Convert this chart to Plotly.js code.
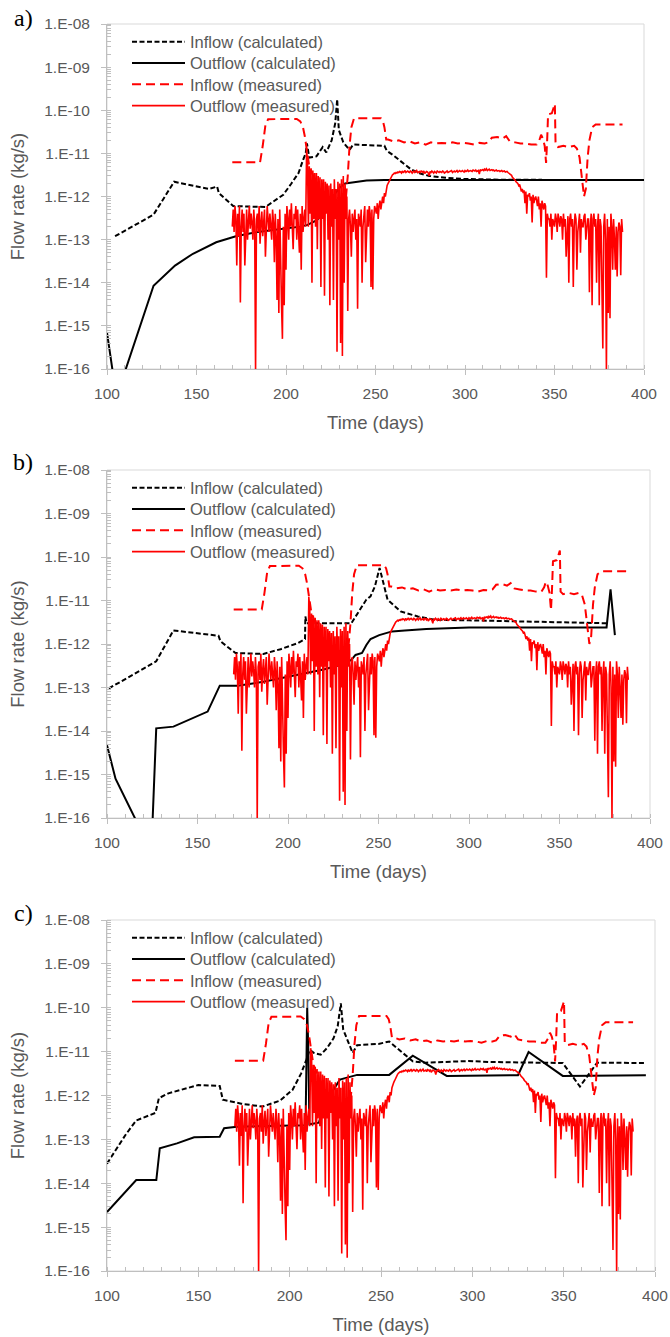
<!DOCTYPE html>
<html>
<head>
<meta charset="utf-8">
<script src="https://cdn.plot.ly/plotly-3.0.1.min.js"></script>
<style>
  html, body { margin: 0; padding: 0; background: #ffffff; }
  #chart { width: 670px; height: 1337px; }
</style>
</head>
<body>
<div id="chart"></div>
<script>
// ---------------- tick labels / names ----------------
const yTickVals = [1e-16, 1e-15, 1e-14, 1e-13, 1e-12, 1e-11, 1e-10, 1e-9, 1e-8];
const yTickText = ["1.E-16", "1.E-15", "1.E-14", "1.E-13", "1.E-12", "1.E-11", "1.E-10", "1.E-09", "1.E-08"];
const xTickVals = [100, 150, 200, 250, 300, 350, 400];
const panelLabels = ["a)", "b)", "c)"];
const seriesNames = ["Inflow (calculated)", "Outflow (calculated)", "Inflow (measured)", "Outflow (measured)"];
const xTitle = "Time (days)";
const yTitle = "Flow rate (kg/s)";

// ---------------- measured data (same in all panels) ----------------
const inMeasDays = [170, 185.5, 187, 188.5, 190, 206, 208, 209.5, 210.5, 211.5, 213, 216, 220, 225, 230, 232.5, 233.5, 234.5, 235.5, 236.5, 238,
  253, 254.2, 255, 256, 257, 260, 263, 266, 269, 272, 275, 278, 281, 284, 287, 290, 293, 296, 299, 302, 305, 308, 311, 313, 315, 318, 321, 323, 325,
  328, 331, 334, 337, 340, 341.5, 342.5, 343.5, 344.5, 345.3, 345.9, 346.4, 348.5, 349.5, 350.2, 350.6, 352, 355, 358, 361, 362.5, 364, 365.5,
  366.5, 367.5, 368.5, 369.5, 371, 373, 388];
const inMeasFlow = [6.2e-12, 6.2e-12, 1.5e-11, 4.5e-11, 6.2e-11, 6.3e-11, 5.5e-11, 4e-11, 2.5e-11, 1.2e-11, 5e-12, 2.5e-12, 1.2e-12, 8e-13, 6e-13, 3e-13, 8e-13, 3e-12, 1.5e-11, 4e-11, 6.5e-11,
  6.5e-11, 5.5e-11, 4e-11, 2.1e-11, 2.1e-11, 1.9e-11, 2e-11, 1.8e-11, 1.9e-11, 1.7e-11, 1.8e-11, 1.6e-11, 1.8e-11, 1.7e-11, 1.75e-11, 1.7e-11, 1.8e-11, 1.7e-11, 1.75e-11, 1.7e-11, 1.6e-11, 1.75e-11, 1.7e-11, 1.8e-11, 2.3e-11, 2.4e-11, 2.2e-11, 2.5e-11, 1.9e-11,
  1.8e-11, 1.7e-11, 1.7e-11, 1.6e-11, 1.6e-11, 2e-11, 2.7e-11, 2.2e-11, 1.5e-11, 6e-12, 2e-11, 8e-11, 8.5e-11, 1.1e-10, 1.4e-10, 1.6e-11, 1.4e-11, 1.5e-11, 1.4e-11, 1.5e-11, 1.3e-11, 8e-12, 2.5e-12,
  1e-12, 1.5e-12, 8e-12, 2e-11, 4e-11, 4.7e-11, 4.7e-11];

// measured outflow: logged every half day from day 170
const outMeasStart = 170;
const outMeasStep = 0.5;
const outMeasFlow = [
  2e-13,5e-13, 1.5e-13,6e-13, 3e-13,2.5e-14, 4e-13,1.2e-13, 6e-13,3.5e-15,
  2e-13,5e-13, 1.5e-13,4e-13, 2.5e-14,3e-13, 5e-13,1e-13, 3e-13,6e-13,
  1.8e-13,4e-13, 2.5e-13,1e-13, 5e-13,2e-13, 9e-17,3e-13, 4e-13,1.5e-13,
  6e-13,8e-14, 2.5e-13,4.5e-13, 1.2e-13,3e-13, 5e-13,4e-14, 2e-13,6e-13,
  3e-13,1.5e-13, 4e-13,2e-13, 1e-13,5e-13, 2.5e-13,3e-14, 4e-13,1.2e-13,
  4e-15,3e-13, 2e-15,5e-13, 1e-14,3e-15, 5e-16,2e-13, 3e-15,4e-13,
  2e-14,6e-13, 3e-13,1e-13, 5e-13,2e-13, 7e-13,1.5e-13, 6e-14,4e-13,
  3e-13,6e-13, 1e-13,5e-13, 2e-13,5e-14, 4e-13,2e-14, 6e-13,1.5e-13,
  3e-13,5e-13, 2e-13,1.2e-11, 7e-12,2e-13, 5e-12,4e-13, 4.5e-12,1e-14,
  4e-12,3e-13, 3.5e-12,2e-13, 3.5e-12,6e-14, 3e-12,3e-13, 2.8e-12,8e-15,
  2.5e-12,3e-13, 2.5e-12,5e-15, 2.2e-12,4e-13, 2e-12,1e-13, 1.8e-12,3e-15,
  2e-12,2e-13, 1.5e-12,4e-15, 2.5e-12,3e-13, 1.5e-12,2.5e-16, 2.2e-12,1e-13,
  2e-12,4e-16, 2.5e-12,2e-16, 3e-12,1e-14, 2e-12,3e-13, 1e-12,2.2e-15,
  3e-13,5e-13, 2e-13,4e-14, 4e-13,1.5e-13, 3e-13,5e-13, 1e-13,3e-13,
  2.5e-15,4e-13, 3e-13,2e-13, 5e-13,1e-14, 2e-13,4e-13, 6e-13,3e-14,
  3e-13,5e-13, 2e-13,6e-13, 4e-13,8e-15, 5e-13,7e-15, 3e-13,6e-13,
  5e-13,4e-13, 7e-13,3e-13, 6e-13,8e-13, 5e-13,9e-13, 1e-12,7e-13,
  1.2e-12,1e-12, 1.5e-12,1.8e-12, 2e-12,2.2e-12, 2.5e-12,2.8e-12, 3e-12,3.2e-12,
  3.3e-12,3.5e-12, 3.4e-12,3.6e-12, 3.5e-12,3.7e-12, 3.6e-12,3.8e-12, 3.7e-12,3.5e-12,
  3.9e-12,3.6e-12, 3.7e-12,4e-12, 3.6e-12,3.8e-12, 3.9e-12,3.7e-12, 3.6e-12,3.9e-12,
  3.8e-12,3.5e-12, 3.7e-12,3.9e-12, 3.6e-12,3.8e-12, 4e-12,3.6e-12, 3.7e-12,3.8e-12,
  3.5e-12,3.9e-12, 3.8e-12,3.6e-12, 3.9e-12,3.4e-12, 3.6e-12,3.8e-12, 3.7e-12,3.5e-12,
  3e-12,3.8e-12, 3.6e-12,3.9e-12, 3.7e-12,3.5e-12, 3.8e-12,3.6e-12, 3.5e-12,3.9e-12,
  3.7e-12,3.6e-12, 3.8e-12,3.7e-12, 3.6e-12,3.9e-12, 3.8e-12,3.5e-12, 3.7e-12,3.8e-12,
  3.9e-12,3.6e-12, 3.7e-12,3.8e-12, 3.8e-12,4e-12, 3.6e-12,3.8e-12, 3.9e-12,3.7e-12,
  3.8e-12,4e-12, 3.7e-12,3.9e-12, 4e-12,3.8e-12, 3.8e-12,4e-12, 3.9e-12,3.7e-12,
  4e-12,3.8e-12, 3.9e-12,4.1e-12, 3.8e-12,4e-12, 4e-12,3.9e-12, 3.8e-12,4.1e-12,
  4e-12,3.9e-12, 4.1e-12,3.8e-12, 3.9e-12,4e-12, 3.3e-12,4.2e-12, 4e-12,4.1e-12,
  4.2e-12,3.9e-12, 4.3e-12,4.1e-12, 4.4e-12,4e-12, 4.1e-12,4.3e-12, 4e-12,4.2e-12,
  4.2e-12,4e-12, 4.1e-12,3.9e-12, 4e-12,4.1e-12, 3.9e-12,4e-12, 4e-12,3.8e-12,
  3.9e-12,4e-12, 3.8e-12,3.9e-12, 3.9e-12,3.7e-12, 3.7e-12,3.8e-12, 3.6e-12,3.5e-12,
  3.4e-12,3.3e-12, 3.1e-12,2.8e-12, 2.7e-12,2.5e-12, 2.4e-12,2.2e-12, 2.1e-12,2e-12,
  1.8e-12,1.9e-12, 1.6e-12,1.3e-12, 1.5e-12,1.2e-12, 1.4e-12,7e-13, 1.3e-12,4e-13,
  1.1e-12,1e-12, 1.2e-12,8e-13, 1e-12,2.5e-13, 1.1e-12,7e-13, 9e-13,1e-12,
  8e-13,6e-13, 1e-12,5e-13, 7e-13,2e-13, 8e-13,6e-13, 5e-13,7e-13,
  6e-13,1.3e-14, 4e-13,3e-13, 3e-13,2e-13, 4e-13,1e-13, 3e-13,2.5e-13,
  2e-13,4e-13, 3e-13,1.5e-13, 4e-13,3e-13, 2e-13,3.5e-13, 3e-13,1e-13,
  4e-13,2e-13, 3e-13,4e-14, 2.5e-13,3.5e-13, 1e-14,3e-13, 4e-13,2e-13,
  3e-13,8e-15, 2e-13,4e-13, 3e-13,2e-14, 1.5e-13,3e-13, 4e-13,5e-14,
  3e-13,2e-13, 2e-13,3.5e-13, 4e-13,1e-13, 2e-13,3e-13, 3e-13,6e-15,
  2e-13,4e-13, 3e-15,3e-13, 4e-13,2e-13, 3e-13,1e-14, 2e-13,4e-13,
  3e-15,3e-13, 2e-13,8e-15, 3e-16,2e-13, 4e-13,1e-13, 9e-17,3e-13,
  2e-15,2e-13, 1.5e-15,4e-13, 2e-13,2e-14, 3e-13,1e-13, 2e-14,2e-13,
  1.4e-14,1.5e-13, 2.5e-13,2e-13, 1.5e-14,3e-13,
  1.5e-13
];

// ---------------- panel a: calculated ----------------
const aInDays = [104.5, 126, 137.5, 157, 161.5, 162.5, 164, 170.5, 188.5, 198.5, 203, 207, 209.5, 211, 211.7, 213, 217, 219.5, 220.5, 222.5, 225.5, 227.5, 228.6, 229.5, 232, 235.5, 237.5, 255, 256.3, 260, 265, 270, 275, 280, 290, 300, 320, 343];
const aInFlow = [1.2e-13, 3.8e-13, 2.2e-12, 1.5e-12, 1.7e-12, 1.2e-12, 1.05e-12, 6e-13, 5.7e-13, 1.1e-12, 2e-12, 3.5e-12, 7e-12, 1e-11, 1.7e-11, 8e-12, 8.5e-12, 1.2e-11, 1.4e-11, 1.05e-11, 2e-11, 5e-11, 1.8e-10, 3.5e-11, 1.8e-11, 1.2e-11, 1.6e-11, 1.5e-11, 1.15e-11, 9e-12, 6e-12, 4.2e-12, 3.4e-12, 3e-12, 2.7e-12, 2.55e-12, 2.45e-12, 2.45e-12];
const aOutDays = [100, 106.5, 110.5, 126, 138, 148, 161, 172, 184, 196, 208, 212, 217, 221, 224, 227, 230, 233, 237, 245, 255, 400];
const aOutFlow = [7e-16, 1e-17, 1e-16, 8.5e-15, 2.5e-14, 4.7e-14, 8.7e-14, 1.2e-13, 1.5e-13, 1.75e-13, 2e-13, 2.2e-13, 2.8e-13, 4e-13, 6.5e-13, 1.1e-12, 1.6e-12, 2e-12, 2.1e-12, 2.35e-12, 2.4e-12, 2.4e-12];

// ---------------- panel b: calculated ----------------
const bInDays = [101, 127.2, 136.7, 161.6, 162.7, 171, 186.4, 195.9, 205.4, 209.4, 209.6, 210.3, 235, 239.7, 243.3, 245.6, 248, 250.6, 252.7, 255, 262.2, 271.7, 281, 300, 376];
const bInFlow = [9.5e-14, 4e-13, 2.05e-12, 1.55e-12, 1.15e-12, 6.2e-13, 5.9e-13, 7.6e-13, 1.05e-12, 1.3e-12, 4.3e-12, 3e-12, 3e-12, 6.2e-12, 1.05e-11, 1.25e-11, 2.1e-11, 5.6e-11, 2.5e-11, 1.05e-11, 5.6e-12, 4.3e-12, 3.6e-12, 3.5e-12, 3e-12];
const bOutDays = [100, 104.7, 115.4, 118, 124.3, 127.2, 136.7, 155.6, 162.3, 172.2, 186.4, 205.4, 219.6, 229, 235, 237.3, 240.9, 243.3, 245.6, 250.4, 257.5, 264.6, 276.4, 300, 376, 378.2, 380.6];
const bOutFlow = [4.7e-15, 8e-16, 1e-16, 1e-17, 1e-17, 1.15e-14, 1.26e-14, 2.8e-14, 1.1e-13, 1.1e-13, 1.35e-13, 1.95e-13, 2.6e-13, 3.3e-13, 4.3e-13, 5.6e-13, 6.2e-13, 9.5e-13, 1.3e-12, 1.6e-12, 1.95e-12, 2.04e-12, 2.2e-12, 2.4e-12, 2.4e-12, 1.8e-11, 1.6e-12];

// ---------------- panel c: calculated ----------------
const cInDays = [100, 110.1, 116, 126.5, 128.4, 133.6, 150, 161.7, 163.4, 173.5, 185.2, 194.6, 201.6, 206.3, 209.2, 211, 213.4, 217, 220.4, 224, 226.3, 227.5, 228, 229.3, 232.2, 234.5, 236.9, 248.6, 254.5, 267.4, 274.4, 297.9, 309.6, 349.5, 358.9, 368.3, 395.3];
const cInFlow = [2.8e-14, 1.26e-13, 2.7e-13, 4e-13, 8.7e-13, 1.12e-12, 1.73e-12, 1.65e-12, 8e-13, 6.5e-13, 5.6e-13, 7.6e-13, 1.35e-12, 3.2e-12, 6.6e-12, 1.1e-11, 9.3e-12, 8.5e-12, 1.2e-11, 2e-11, 3.8e-11, 8.3e-11, 1.26e-10, 3.2e-11, 1.6e-11, 9.3e-12, 1.4e-11, 1.5e-11, 1.7e-11, 6e-12, 5.6e-12, 6.1e-12, 5.8e-12, 5.5e-12, 1.6e-12, 5.6e-12, 5.5e-12];
const cOutDays = [100, 116, 127, 128.9, 138.3, 147.7, 161.7, 164.1, 171.1, 199.3, 208.7, 209.6, 210.2, 210.8, 216, 218, 221.6, 227.5, 234.5, 236.9, 254.5, 267.4, 286, 298, 300, 325, 330.8, 349.5, 395];
const cOutFlow = [2.2e-15, 1.18e-14, 1.18e-14, 6.3e-14, 8.1e-14, 1.12e-13, 1.15e-13, 1.8e-13, 1.94e-13, 2.1e-13, 2.1e-13, 1e-10, 1.1e-11, 2.2e-13, 2.4e-13, 4.7e-13, 9.5e-13, 2.3e-12, 2.7e-12, 2.95e-12, 2.95e-12, 8.1e-12, 2.8e-12, 2.8e-12, 2.9e-12, 2.9e-12, 9.8e-12, 2.8e-12, 2.9e-12];

const calc = [
  {inD: aInDays, inF: aInFlow, outD: aOutDays, outF: aOutFlow},
  {inD: bInDays, inF: bInFlow, outD: bOutDays, outF: bOutFlow},
  {inD: cInDays, inF: cInFlow, outD: cOutDays, outF: cOutFlow}
];

// ---------------- layout geometry (pixels in a 670 x 1337 page) ----------------
const W = 670, H = 1337;
const boxes = [
  {l: 107, r: 644, t: 24, b: 369},
  {l: 107, r: 650, t: 470, b: 818},
  {l: 107, r: 655, t: 920, b: 1271}
];
const labelPos = [18, 462, 913];

const FONT = "Liberation Sans, Arial, sans-serif";
const GREY = "#595959";
const AXC = "#bfbfbf";

const traces = [];
const layout = {
  width: W, height: H,
  margin: {l: 0, r: 0, t: 0, b: 0},
  paper_bgcolor: "#ffffff", plot_bgcolor: "#ffffff",
  showlegend: true,
  font: {family: FONT, color: GREY},
  shapes: [], annotations: []
};

const lineStyles = [
  {color: "#000000", width: 2, dash: "5px,2.5px"},
  {color: "#000000", width: 2},
  {color: "#ff0000", width: 2, dash: "9px,5px"},
  {color: "#ff0000", width: 1.6}
];

boxes.forEach((bx, i) => {
  const n = i === 0 ? "" : String(i + 1);
  const xa = "x" + n, ya = "y" + n;
  const c = calc[i];
  const legs = [0, 1, 2, 3].map(k => {
    const idx = i * 4 + k + 1;
    return idx === 1 ? "legend" : "legend" + idx;
  });

  traces.push({x: c.inD, y: c.inF, xaxis: xa, yaxis: ya, legend: legs[0], name: seriesNames[0], mode: "lines", line: lineStyles[0]});
  traces.push({x: c.outD, y: c.outF, xaxis: xa, yaxis: ya, legend: legs[1], name: seriesNames[1], mode: "lines", line: lineStyles[1]});
  traces.push({x: inMeasDays, y: inMeasFlow, xaxis: xa, yaxis: ya, legend: legs[2], name: seriesNames[2], mode: "lines", line: lineStyles[2]});
  traces.push({x0: outMeasStart, dx: outMeasStep, y: outMeasFlow, xaxis: xa, yaxis: ya, legend: legs[3], name: seriesNames[3], mode: "lines", line: lineStyles[3]});

  layout["xaxis" + n] = {
    domain: [bx.l / W, bx.r / W], anchor: ya, range: [100, 400],
    tickmode: "array", tickvals: xTickVals,
    ticks: "outside", ticklen: 5, tickcolor: AXC, tickwidth: 1,
    showline: true, linecolor: AXC, linewidth: 1, showgrid: false, zeroline: false,
    tickfont: {family: FONT, size: 15.5, color: GREY},
    ticklabelstandoff: 5,
    minor: {ticks: "inside", ticklen: 4, dtick: 10, tick0: 100, tickcolor: AXC, showgrid: false},
    title: {text: xTitle, font: {family: FONT, size: 18.5, color: GREY}, standoff: 15},
    automargin: false, fixedrange: true
  };
  layout["yaxis" + n] = {
    type: "log", domain: [1 - bx.b / H, 1 - bx.t / H], anchor: xa, range: [-16, -8],
    tickmode: "array", tickvals: yTickVals, ticktext: yTickText,
    ticks: "outside", ticklen: 5, tickcolor: AXC, tickwidth: 1,
    showline: true, linecolor: AXC, linewidth: 1, showgrid: false, zeroline: false,
    tickfont: {family: FONT, size: 15.5, color: GREY},
    ticklabelstandoff: 8,
    minor: {ticks: "inside", ticklen: 4, dtick: "D1", tickcolor: AXC, showgrid: false},
    title: {text: yTitle, font: {family: FONT, size: 18.5, color: GREY}, standoff: 14},
    automargin: false, fixedrange: true
  };
  legs.forEach((lg, k) => {
    layout[lg] = {
      x: (bx.l + 20) / W, xanchor: "left",
      y: 1 - (bx.t + 0.5 + 21.3 * k) / H, yanchor: "top",
      bgcolor: "rgba(0,0,0,0)", borderwidth: 0,
      font: {family: FONT, size: 16.5, color: GREY},
      itemwidth: 53, tracegroupgap: 0
    };
  });
  layout.shapes.push({type: "rect", xref: xa + " domain", yref: ya + " domain", x0: 0, x1: 1, y0: 0, y1: 1,
    line: {color: "#d9d9d9", width: 1}, layer: "below"});
  layout.annotations.push({text: panelLabels[i], xref: "paper", yref: "paper", x: 23 / W, y: 1 - labelPos[i] / H,
    xanchor: "center", yanchor: "middle", showarrow: false,
    font: {family: "Liberation Serif, Times New Roman, serif", size: 24, color: "#000000"}});
});

Plotly.newPlot("chart", traces, layout, {staticPlot: true, displayModeBar: false});
</script>
</body>
</html>
